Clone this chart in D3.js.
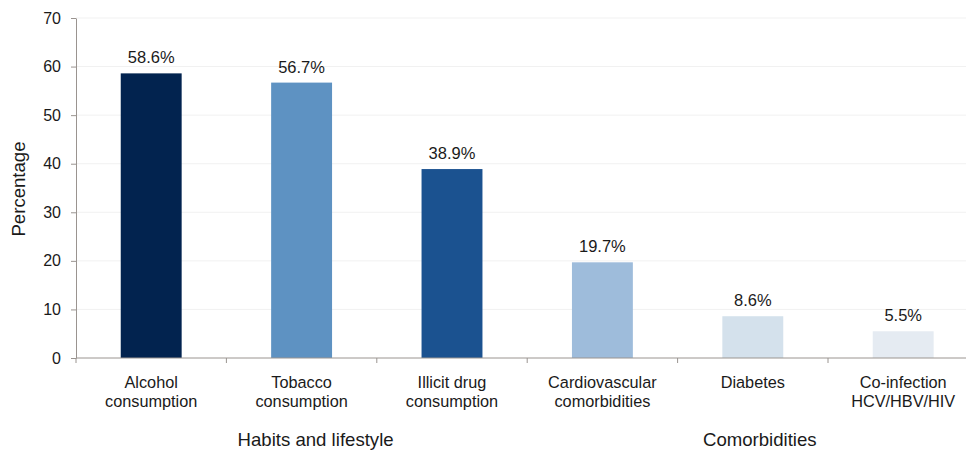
<!DOCTYPE html>
<html>
<head>
<meta charset="utf-8">
<script src="https://cdn.jsdelivr.net/npm/d3@7"></script>
<style>
  html, body { margin: 0; padding: 0; background: #fff; }
  svg { display: block; font-family: "Liberation Sans", Arial, sans-serif; }
</style>
</head>
<body>
<svg id="chart" width="966" height="451"></svg>
<script>
// Risk factors and comorbidities, share of patients (%)
const categories = [
  ["Alcohol", "consumption"],
  ["Tobacco", "consumption"],
  ["Illicit drug", "consumption"],
  ["Cardiovascular", "comorbidities"],
  ["Diabetes"],
  ["Co-infection", "HCV/HBV/HIV"]
];
const values = [58.6, 56.7, 38.9, 19.7, 8.6, 5.5];
const barColors = ["#02234f", "#5e92c2", "#1b5290", "#9ebcdb", "#d4e1ec", "#e5ebf2"];
const yTicks = [0, 10, 20, 30, 40, 50, 60, 70];
const groups = [
  { label: "Habits and lifestyle", first: 0, last: 2 },
  { label: "Comorbidities", first: 3, last: 5 }
];

const svg = d3.select("#chart");
const margin = { left: 76, top: 18, bottom: 93 };
const H = 451;
const step = 150.4;

const ids = d3.range(categories.length);
const x = d3.scaleBand()
  .domain(ids)
  .range([margin.left, margin.left + step * categories.length])
  .paddingInner(0.595)
  .paddingOuter(0.2975);

const y = d3.scaleLinear()
  .domain([0, 70])
  .range([H - margin.bottom, margin.top]);

// light horizontal gridlines
svg.append("g")
  .selectAll("line")
  .data(yTicks.filter(d => d > 0))
  .join("line")
  .attr("x1", margin.left)
  .attr("x2", 966)
  .attr("y1", d => y(d))
  .attr("y2", d => y(d))
  .attr("stroke", "#f1f1f1")
  .attr("stroke-width", 1);

// bars
svg.append("g")
  .selectAll("rect")
  .data(values)
  .join("rect")
  .attr("x", (d, i) => x(i))
  .attr("width", x.bandwidth())
  .attr("y", d => y(d))
  .attr("height", d => y(0) - y(d))
  .attr("fill", (d, i) => barColors[i]);

// value labels
svg.append("g")
  .selectAll("text")
  .data(values)
  .join("text")
  .attr("x", (d, i) => x(i) + x.bandwidth() / 2)
  .attr("y", d => y(d) - 10)
  .attr("text-anchor", "middle")
  .attr("font-size", 16.5)
  .attr("fill", "#1a1a1a")
  .text(d => d.toFixed(1) + "%");

// y axis
const yAxis = svg.append("g")
  .attr("transform", `translate(${margin.left},0)`)
  .call(d3.axisLeft(y).tickValues(yTicks).tickSize(5).tickPadding(10).tickSizeOuter(0));
yAxis.select(".domain").attr("stroke", "#9a9490");
yAxis.selectAll(".tick line").attr("stroke", "#9a9490");
yAxis.selectAll(".tick text")
  .attr("font-size", 16)
  .attr("font-family", "Liberation Sans, Arial, sans-serif")
  .attr("fill", "#1a1a1a");

// x axis with ticks at category boundaries
const bounds = d3.range(categories.length + 1).map(i => margin.left + i * step);
svg.append("line")
  .attr("x1", margin.left).attr("x2", 966)
  .attr("y1", y(0)).attr("y2", y(0))
  .attr("stroke", "#9a9490");
svg.append("g")
  .selectAll("line")
  .data(bounds)
  .join("line")
  .attr("x1", d => d).attr("x2", d => d)
  .attr("y1", y(0)).attr("y2", y(0) + 5)
  .attr("stroke", "#9a9490");

// category labels
const catG = svg.append("g")
  .selectAll("text")
  .data(categories)
  .join("text")
  .attr("x", (d, i) => x(i) + x.bandwidth() / 2)
  .attr("y", y(0) + 30)
  .attr("text-anchor", "middle")
  .attr("font-size", 16.3)
  .attr("fill", "#1a1a1a");
catG.selectAll("tspan")
  .data(d => d)
  .join("tspan")
  .attr("x", function () { return d3.select(this.parentNode).attr("x"); })
  .attr("dy", (d, i) => i === 0 ? 0 : 19)
  .text(d => d);

// group labels
svg.append("g")
  .selectAll("text")
  .data(groups)
  .join("text")
  .attr("x", (g, i) => (x(g.first) + x(g.last) + x.bandwidth()) / 2 + (i === 0 ? 14 : 7))
  .attr("y", 446)
  .attr("text-anchor", "middle")
  .attr("font-size", 18.6)
  .attr("fill", "#1a1a1a")
  .text(g => g.label);

// y axis title
svg.append("text")
  .attr("transform", `translate(25,189) rotate(-90)`)
  .attr("text-anchor", "middle")
  .attr("font-size", 18.6)
  .attr("fill", "#1a1a1a")
  .text("Percentage");
</script>
</body>
</html>
